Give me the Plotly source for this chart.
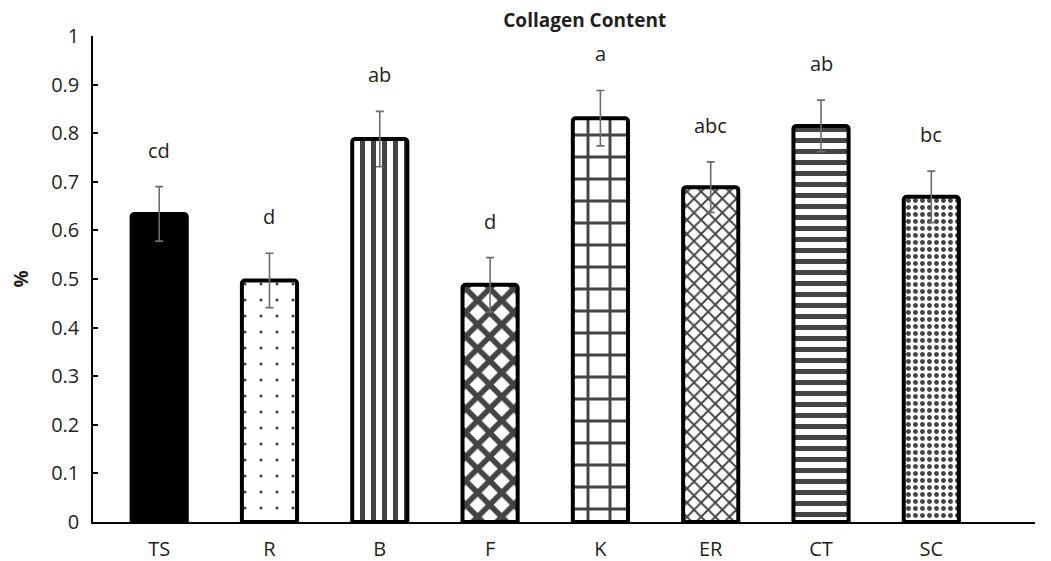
import plotly.graph_objects as go

categories = ["TS", "R", "B", "F", "K", "ER", "CT", "SC"]
values = [0.634, 0.497, 0.788, 0.488, 0.831, 0.689, 0.815, 0.669]
errors = [0.056, 0.056, 0.057, 0.056, 0.057, 0.052, 0.053, 0.053]
letters = ["cd", "d", "ab", "d", "a", "abc", "ab", "bc"]
y_ticks = [0, 0.1, 0.2, 0.3, 0.4, 0.5, 0.6, 0.7, 0.8, 0.9, 1]
y_tick_text = ["0", "0.1", "0.2", "0.3", "0.4", "0.5", "0.6", "0.7", "0.8", "0.9", "1"]

bar_colors = ["black", "white", "white", "white", "white", "white", "white", "white"]
shapes = ["", ".", "|", "x", "+", "x", "-", "."]
sizes = [8, 16, 11, 17, 22, 10, 11, 7]
solid = [0.5, 0.03, 0.45, 0.55, 0.25, 0.35, 0.45, 0.4]

FONT = "Open Sans"
TXT = "#231f20"

fig = go.Figure()
fig.add_trace(go.Bar(
    x=categories, y=values, width=0.5,
    marker=dict(
        color=bar_colors,
        line=dict(color="black", width=4),
        pattern=dict(shape=shapes, size=sizes, solidity=solid,
                     fgcolor="black", fgopacity=1, fillmode="overlay"),
        cornerradius=3,
    ),
    error_y=dict(type="data", array=errors, visible=True,
                 color="#6d6d6d", thickness=1.6, width=4),
    showlegend=False,
))

annotations = []
for c, v, e, l in zip(categories, values, errors, letters):
    annotations.append(dict(x=c, y=v + e + 0.075, text=l, showarrow=False,
                            xref="x", yref="y", yanchor="middle",
                            font=dict(family=FONT, size=20, color=TXT)))

fig.update_layout(
    width=1051, height=561,
    margin=dict(l=83, r=24, t=28, b=47),
    plot_bgcolor="white", paper_bgcolor="white",
    font=dict(family=FONT, size=18, color=TXT),
    title=dict(text="<b>Collagen Content</b>", x=0.522, xref="paper",
               xanchor="center", y=0.978, yref="container", yanchor="middle",
               font=dict(family=FONT, size=19, color=TXT)),
    annotations=annotations,
    bargap=0.5,
)
fig.update_xaxes(range=[-0.6, 7.94], showline=True, linecolor="black",
                 linewidth=1.5, ticks="", showgrid=False, zeroline=False,
                 ticklabelstandoff=8, automargin=False,
                 tickfont=dict(family=FONT, size=20, color=TXT))
fig.update_yaxes(range=[0, 1], tickvals=y_ticks, ticktext=y_tick_text,
                 showline=True, linecolor="black", linewidth=1.5,
                 ticks="inside", ticklen=5, tickcolor="black", tickwidth=1.5,
                 showgrid=False, zeroline=False, ticklabelstandoff=8,
                 tickfont=dict(family=FONT, size=20, color=TXT),
                 title=dict(text="<b>%</b>", standoff=18,
                            font=dict(family=FONT, size=19, color=TXT)))

fig.write_html("out.html")
